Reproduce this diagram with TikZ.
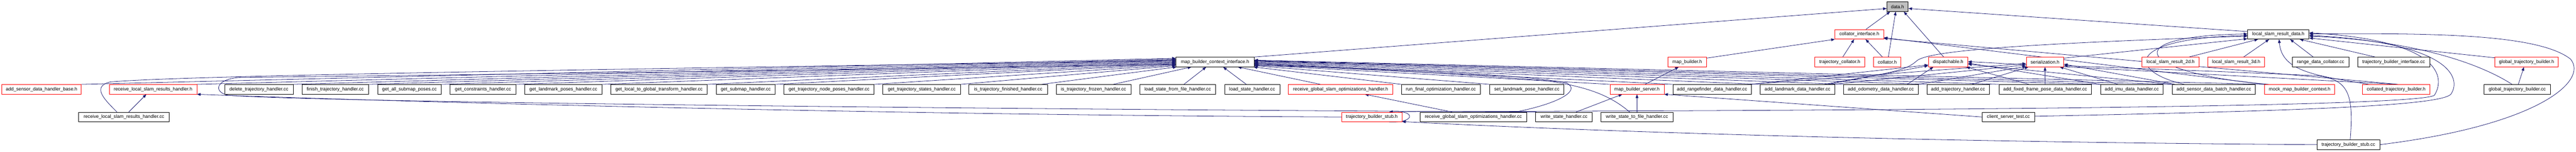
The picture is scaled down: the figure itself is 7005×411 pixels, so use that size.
\documentclass[tikz,border=0pt]{standalone}
\usepackage{fontspec}
\setmainfont{Liberation Sans}
\usetikzlibrary{arrows.meta,backgrounds}
\definecolor{edgec}{HTML}{191970}
\definecolor{rootfill}{HTML}{BFBFBF}
\begin{document}
\begin{tikzpicture}[x=1pt,y=-1pt,
  font=\fontsize{12.8}{14}\selectfont,
  nd/.style={draw=black, line width=1pt, fill=white, rectangle, inner sep=0pt, minimum height=26pt},
  nr/.style={nd, draw=red},
  e/.style={draw=edgec, line width=1.1pt, -{Triangle[length=10pt,width=7.5pt]}}]
\useasboundingbox (0,0) rectangle (7005,411);
% row 0
\node[nd, fill=rootfill, minimum width=58pt] (datah) at (5160,18) {data.h};
% row 1
\node[nr, minimum width=132pt] (colint) at (5056,93) {collator\_interface.h};
\node[nd, minimum width=167pt] (lsrd) at (6195.5,93) {local\_slam\_result\_data.h};
% row 2
\node[nd, minimum width=212pt] (mbci) at (3304,168) {map\_builder\_context\_interface.h};
\node[nr, minimum width=104pt] (mbh) at (4588,168) {map\_builder.h};
\node[nr, minimum width=136pt] (tcol) at (5003,168) {trajectory\_collator.h};
\node[nr, minimum width=74pt] (col) at (5132,168) {collator.h};
\node[nr, minimum width=107pt] (disp) at (5297.5,168) {dispatchable.h};
\node[nr, minimum width=102pt] (ser) at (5561,168) {serialization.h};
\node[nr, minimum width=155pt] (lsr2) at (5902.5,168) {local\_slam\_result\_2d.h};
\node[nr, minimum width=154pt] (lsr3) at (6081,168) {local\_slam\_result\_3d.h};
\node[nd, minimum width=153pt] (rdc) at (6310.5,168) {range\_data\_collator.cc};
\node[nd, minimum width=196pt] (tbi) at (6509,168) {trajectory\_builder\_interface.cc};
\node[nr, minimum width=173pt] (gtbh) at (6870.5,168) {global\_trajectory\_builder.h};
% row 3
\node[nr, minimum width=216pt] (asdhb) at (113,242) {add\_sensor\_data\_handler\_base.h};
\node[nr, minimum width=238pt] (rlsrh) at (416,242) {receive\_local\_slam\_results\_handler.h};
\node[nd, minimum width=186pt] (dth) at (704,242) {delete\_trajectory\_handler.cc};
\node[nd, minimum width=181pt] (fth) at (911.5,242) {finish\_trajectory\_handler.cc};
\node[nd, minimum width=173pt] (gasp) at (1113.5,242) {get\_all\_submap\_poses.cc};
\node[nd, minimum width=179pt] (gch) at (1313.5,242) {get\_constraints\_handler.cc};
\node[nd, minimum width=210pt] (glph) at (1532,242) {get\_landmark\_poses\_handler.cc};
\node[nd, minimum width=262pt] (gltg) at (1792,242) {get\_local\_to\_global\_transform\_handler.cc};
\node[nd, minimum width=160pt] (gsh) at (2028,242) {get\_submap\_handler.cc};
\node[nd, minimum width=245pt] (gtnp) at (2254.5,242) {get\_trajectory\_node\_poses\_handler.cc};
\node[nd, minimum width=211pt] (gtsh) at (2506.5,242) {get\_trajectory\_states\_handler.cc};
\node[nd, minimum width=213pt] (itfin) at (2741.5,242) {is\_trajectory\_finished\_handler.cc};
\node[nd, minimum width=203pt] (itfro) at (2973.5,242) {is\_trajectory\_frozen\_handler.cc};
\node[nd, minimum width=207pt] (lsff) at (3202.5,242) {load\_state\_from\_file\_handler.cc};
\node[nd, minimum width=150pt] (lsh) at (3405,242) {load\_state\_handler.cc};
\node[nr, minimum width=285pt] (rgsoh) at (3645.5,242) {receive\_global\_slam\_optimizations\_handler.h};
\node[nd, minimum width=214pt] (rfoh) at (3918,242) {run\_final\_optimization\_handler.cc};
\node[nd, minimum width=202pt] (slph) at (4152,242) {set\_landmark\_pose\_handler.cc};
\node[nr, minimum width=147pt] (mbsh) at (4451.5,242) {map\_builder\_server.h};
\node[nd, minimum width=213pt] (ardh) at (4655.5,242) {add\_rangefinder\_data\_handler.cc};
\node[nd, minimum width=204pt] (aldh) at (4888,242) {add\_landmark\_data\_handler.cc};
\node[nd, minimum width=203pt] (aodh) at (5114.5,242) {add\_odometry\_data\_handler.cc};
\node[nd, minimum width=169pt] (ath) at (5324.5,242) {add\_trajectory\_handler.cc};
\node[nd, minimum width=251pt] (affp) at (5561.5,242) {add\_fixed\_frame\_pose\_data\_handler.cc};
\node[nd, minimum width=170pt] (aidh) at (5797,242) {add\_imu\_data\_handler.cc};
\node[nd, minimum width=226pt] (asdb) at (6020,242) {add\_sensor\_data\_batch\_handler.cc};
\node[nr, minimum width=191pt] (mmbc) at (6253.5,242) {mock\_map\_builder\_context.h};
\node[nr, minimum width=184pt] (ctb) at (6516,242) {collated\_trajectory\_builder.h};
\node[nd, minimum width=180pt] (gtbc) at (6845,242) {global\_trajectory\_builder.cc};
% row 4
\node[nd, minimum width=246pt] (rlsrc) at (337,317) {receive\_local\_slam\_results\_handler.cc};
\node[nr, minimum width=163pt] (tbsh) at (3730.5,317) {trajectory\_builder\_stub.h};
\node[nd, minimum width=291pt] (rgsoc) at (4006.5,317) {receive\_global\_slam\_optimizations\_handler.cc};
\node[nd, minimum width=154pt] (wsh) at (4253,317) {write\_state\_handler.cc};
\node[nd, minimum width=195pt] (wstf) at (4451.5,317) {write\_state\_to\_file\_handler.cc};
\node[nd, minimum width=143pt] (cst) at (5461.5,317) {client\_server\_test.cc};
% row 5
\node[nd, minimum width=170pt] (tbsc) at (6386,392) {trajectory\_builder\_stub.cc};

\begin{pgfonlayer}{background}
% into data.h
\draw[e] ([xshift=18pt]colint.north) -- ([xshift=-20pt]datah.south);
\draw[e] ([xshift=3pt]col.north) -- ([xshift=-5pt]datah.south);
\draw[e] ([xshift=-12pt]disp.north) -- ([xshift=17pt]datah.south);
\draw[e] (mbci.north east) -- ([yshift=-5pt]datah.west);
\draw[e] ([yshift=-6pt]lsrd.north west) -- ([yshift=-5pt]datah.east);
% into collator_interface.h
\draw[e] ([yshift=-3pt]mbh.north east) -- (colint.south west);
\draw[e] ([xshift=8pt]tcol.north) -- ([xshift=-14pt]colint.south);
\draw[e] ([xshift=-13pt]col.north) -- ([xshift=17pt]colint.south);
\draw[e] (mmbc.north west) -- ([yshift=-9pt]colint.east);
\draw[e] ([xshift=-88pt]ctb.north east) -- ([yshift=-11pt]colint.east);
% into local_slam_result_data.h
\draw[e] ([yshift=-3pt]ser.north east) -- ([yshift=-12pt]lsrd.west);
\draw[e] ([xshift=50pt]lsr2.north) -- ([xshift=-55pt]lsrd.south);
\draw[e] ([xshift=20pt]lsr3.north) -- ([xshift=-25pt]lsrd.south);
\draw[e] ([xshift=-20pt]rdc.north) -- ([xshift=32pt]lsrd.south);
\draw[e] ([xshift=-50pt]tbi.north) -- ([xshift=58pt]lsrd.south);
\draw[e] ([yshift=-2pt]gtbh.north west) -- ([yshift=-10pt]lsrd.east);
\draw[e] ([xshift=-14pt]gtbc.north) .. controls (6740,170) and (6560,110) .. ([yshift=-5pt]lsrd.east);
\draw[e] ([xshift=-75pt]ctb.north) .. controls (6300,205) and (6205,195) .. ([xshift=2pt]lsrd.south);
\draw[e] ([xshift=-80pt]asdb.north) .. controls (5790,195) and (5770,105) .. ([yshift=-3pt]lsrd.west);
\draw[e] ([xshift=-85pt]mmbc.north) .. controls (5820,200) and (5740,98) .. ([yshift=1pt]lsrd.west);
\draw[e] ([xshift=-30pt]aldh.north east) .. controls (5120,200) and (5180,195) .. (5212,165) .. controls (5240,140) and (5450,120) .. ([yshift=-5pt]lsrd.west);
\draw[e] (tbsc.east) .. controls (6900,340) and (7040,220) .. (6990,160) .. controls (6900,90) and (6600,90) .. ([yshift=1pt]lsrd.east);
\draw[e] ([yshift=2pt]cst.east) .. controls (6300,300) and (6640,285) .. (6665,255) .. controls (6695,210) and (6660,115) .. ([yshift=-3pt]lsrd.east);
\draw[e] ([yshift=1pt]tbsh.north east) .. controls (5000,300) and (6580,292) .. (6620,258) .. controls (6650,210) and (6640,110) .. ([yshift=4pt]lsrd.east);
% trajectory_builder_stub
\draw[e] ([xshift=47pt]tbsh.south) .. controls (3850,334) and (3850,298) .. ([xshift=47pt]tbsh.north);
\draw[e] (tbsc.west) .. controls (5200,385) and (4300,355) .. ([yshift=1pt]tbsh.south east);
\draw[e] ([xshift=5pt]tbsc.north) .. controls (6400,260) and (6390,215) .. (6300,205) .. controls (6000,192) and (5800,185) .. ([yshift=-10pt]ser.east);
\draw[e] (tbsh.west) .. controls (2500,312) and (1200,280) .. (rlsrh.south east);
% receive_local_slam_results_handler.cc
\draw[e] ([xshift=13pt]rlsrc.north) -- ([xshift=-18pt]rlsrh.south);
\draw[e] ([xshift=-19pt]rlsrc.north) .. controls (290,275) and (245,235) .. (300,222) .. controls (500,205) and (1500,190) .. ([yshift=4pt]mbci.west);
% write_state
\draw[e] ([xshift=-75pt]wsh.north) .. controls (2500,295) and (800,275) .. (620,258) .. controls (580,250) and (585,215) .. (650,210) .. controls (1500,200) and (2600,185) .. ([yshift=-6pt]mbci.west);
\draw[e] ([xshift=33pt]wsh.north) -- ([xshift=-40pt]mbsh.south);
\draw[e] (wstf.north) -- (mbsh.south);
\draw[e] ([xshift=-20pt]wstf.north) .. controls (4380,260) and (4320,235) .. (4200,218) .. controls (3900,195) and (3600,182) .. ([yshift=-4pt]mbci.east);
% receive_global
\draw[e] ([xshift=-58pt]rgsoc.north) -- ([xshift=66pt]rgsoh.south);
\draw[e] ([xshift=115pt]rgsoc.north) .. controls (4240,280) and (4300,245) .. (4260,225) .. controls (4150,200) and (3700,185) .. ([yshift=-9pt]mbci.east);
% client_server_test / map_builder_server
\draw[e] (cst.west) -- (mbsh.south east);
\draw[e] ([xshift=22pt]mbsh.north) -- ([xshift=-23pt]mbh.south);
% handlers left of mbci
\foreach \n/\s in {asdhb/10, rlsrh/8, dth/6, fth/4, gasp/2, gch/0, glph/-2, gltg/-4, gsh/-6, gtnp/-8, gtsh/-10}
  \draw[e] (\n.north east) -- ([yshift=\s pt]mbci.west);
\draw[e] ([xshift=-16pt]itfin.north east) -- ([xshift=2pt]mbci.south west);
\draw[e] ([xshift=54pt]itfro.north) -- ([xshift=-64pt]mbci.south);
\draw[e] ([xshift=17pt]lsff.north) -- ([xshift=-24pt]mbci.south);
\draw[e] ([xshift=-16pt]lsh.north) -- ([xshift=22pt]mbci.south);
% handlers right of mbci
\draw[e] ([xshift=-55pt]rgsoh.north) -- ([xshift=62pt]mbci.south);
\draw[e] (rfoh.north west) -- ([xshift=-2pt]mbci.south east);
\foreach \n/\s in {slph/-10, mbsh/-8, ardh/-6, aldh/-4, aodh/-2, ath/0, affp/2, aidh/3, asdb/4, mmbc/5}
  \draw[e] (\n.north west) -- ([yshift=\s pt]mbci.east);
% dispatchable
\draw[e] (ardh.north east) -- ([yshift=-8pt]disp.west);
\draw[e] ([xshift=-20pt]aldh.north east) -- ([yshift=-10pt]disp.west);
\draw[e] ([xshift=72pt]aodh.north) -- ([xshift=-40pt]disp.south);
\draw[e] ([xshift=-44pt]affp.north) -- ([xshift=-5pt]disp.south east);
\draw[e] (aidh.north west) -- ([yshift=-3pt]disp.east);
\draw[e] (asdb.north west) -- ([yshift=-6pt]disp.east);
\draw[e] ([xshift=-92pt]ctb.north east) -- ([yshift=1pt]disp.east);
% serialization
\draw[e] ([xshift=-4pt]ardh.north east) -- ([yshift=-4pt]ser.west);
\draw[e] ([xshift=-6pt]aldh.north east) -- ([yshift=-8pt]ser.west);
\draw[e] (aodh.north east) -- ([yshift=-12pt]ser.west);
\draw[e] ([xshift=38pt]ath.north) -- ([xshift=-45pt]ser.south);
\draw[e] (affp.north) -- (ser.south);
\draw[e] ([xshift=-38pt]aidh.north) -- ([xshift=40pt]ser.south);
\draw[e] ([xshift=8pt]asdb.north west) -- ([yshift=-6pt]ser.east);
% global trajectory builder
\draw[e] ([xshift=3pt]gtbc.north) -- ([xshift=-7pt]gtbh.south);
\end{pgfonlayer}
\end{tikzpicture}
\end{document}
